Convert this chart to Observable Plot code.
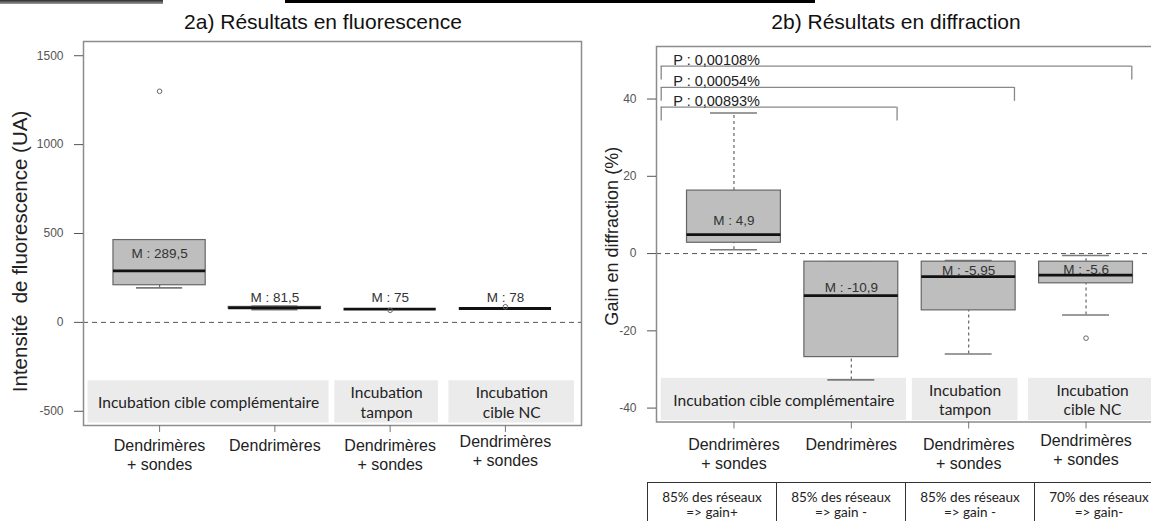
<!DOCTYPE html>
<html lang="fr">
<head>
<meta charset="utf-8">
<script src="https://cdn.jsdelivr.net/npm/d3@7"></script>
<script src="https://cdn.jsdelivr.net/npm/@observablehq/plot@0.6"></script>
<style>
  html, body { margin:0; padding:0; background:#fff; width:1151px; height:521px; overflow:hidden; }
  #root { position:relative; width:1151px; height:521px; overflow:hidden; font-family:"Liberation Sans", Arial, sans-serif; }
  .panel { position:absolute; top:0; }
  .title { position:absolute; top:10px; font-size:21px; line-height:24px; color:#111; white-space:nowrap; transform:translateX(-50%); }
  .bar1 { position:absolute; left:0; top:0; width:163px; height:4px; background:linear-gradient(#2a2a2a,#a0a0a0); }
  .bar2 { position:absolute; left:285px; top:0; width:530px; height:3px; background:#000; }
  .tbl { position:absolute; left:647px; top:482px; display:flex; }
  .cell { width:129px; height:60px; box-sizing:border-box; border-left:1.5px solid #333; border-top:1.5px solid #333; font-family:Lato, sans-serif; font-size:13.5px; line-height:15px; text-align:center; padding-top:7px; color:#222; white-space:pre; }
</style>
</head>
<body>
<div id="root"></div>
<script>
// ---------- shared ----------
const categories = ["Dendrimères\n+ sondes", "Dendrimères", "Dendrimères\n+ sondes", "Dendrimères\n+ sondes"];
const catIndex = [1, 2, 3, 4];
const stripLabels = ["Incubation cible complémentaire", "Incubation\ntampon", "Incubation\ncible NC"];
const stripFrom = [0.38, 2.52, 3.51];
const stripTo = [2.47, 3.42, 4.6];

// ---------- 2a) fluorescence ----------
const fluoTitle = "2a) Résultats en fluorescence";
const fluoYLabel = "Intensité  de fluorescence (UA)";
const fluoTicks = [-500, 0, 500, 1000, 1500];
const fluoLow = [194, 72, 75, 78];
const fluoQ1 = [209, 76, 75, 78];
const fluoMedian = [289.5, 81.5, 75, 78];
const fluoQ3 = [463, 87, 75, 78];
const fluoHigh = [463, 92, 75, 78];
const fluoMedianText = ["289,5", "81,5", "75", "78"];
const fluoLabelY = [384, 141, 141, 141];
const fluoOutCat = [1, 3, 4];
const fluoOutVal = [1300, 68, 88];
const fluoStrip = [-328, -566];

// ---------- 2b) diffraction ----------
const diffTitle = "2b) Résultats en diffraction";
const diffYLabel = "Gain en diffraction (%)";
const diffTicks = [-40, -20, 0, 20, 40];
const diffLow = [1.0, -32.7, -26.0, -15.9];
const diffQ1 = [2.8, -26.8, -14.7, -7.7];
const diffMedian = [4.9, -10.9, -5.95, -5.6];
const diffQ3 = [16.3, -2.1, -2.1, -2.1];
const diffHigh = [36.4, -2.1, -1.8, -0.5];
const diffMedianText = ["4,9", "-10,9", "-5,95", "-5,6"];
const diffLabelY = [8.4, -8.7, -4.4, -4.1];
const diffOutCat = [4];
const diffOutVal = [-21.9];
const diffStrip = [-32.3, -43.2];
const pFrom = [1, 1, 1];
const pTo = [4, 3, 2];
const pY = [48.5, 43.0, 37.9];
const pText = ["P : 0,00108%", "P : 0,00054%", "P : 0,00893%"];
const tableLine1 = ["85% des réseaux", "85% des réseaux", "85% des réseaux", "70% des réseaux"];
const tableLine2 = ["=> gain+", "=> gain -", "=> gain -", "=> gain-"];

const FONT = "'Liberation Sans', Arial, sans-serif";

function makePanel(cfg) {
  const stats = catIndex.map((c, i) => ({
    c, lo: cfg.low[i], q1: cfg.q1[i], med: cfg.med[i], q3: cfg.q3[i], hi: cfg.high[i],
    t: cfg.medText[i], ly: cfg.labelY[i]
  }));
  const outs = cfg.outCat.map((c, i) => ({c, v: cfg.outVal[i]}));
  const strips = stripLabels.map((s, i) => ({label: s, x1: stripFrom[i], x2: stripTo[i], y1: cfg.strip[0], y2: cfg.strip[1]}));
  const cats = catIndex.map((c, i) => ({c, label: categories[i]}));
  const whisk = {stroke: "#666", strokeDasharray: "3,3", strokeWidth: 1.2};
  const cap = {stroke: "#7a7a7a", strokeWidth: 1.6};
  const marks = [
    Plot.rect(strips, {x1: "x1", x2: "x2", y1: "y1", y2: "y2", fill: "#ebebeb"}),
    Plot.text(strips, {x: d => (d.x1 + d.x2) / 2, y: d => (d.y1 + d.y2) / 2, text: "label",
      fontFamily: "Lato, sans-serif", fontSize: 15.5, lineHeight: 1.25, fill: "#222"}),
    Plot.ruleY([0], {stroke: "#555", strokeDasharray: "5,4", strokeWidth: 1}),
    Plot.ruleX(stats, {x: "c", y1: "q3", y2: "hi", ...whisk}),
    Plot.ruleX(stats, {x: "c", y1: "lo", y2: "q1", ...whisk}),
    Plot.ruleY(stats, {y: "hi", x1: d => d.c - 0.2, x2: d => d.c + 0.2, ...cap}),
    Plot.ruleY(stats, {y: "lo", x1: d => d.c - 0.2, x2: d => d.c + 0.2, ...cap}),
    Plot.rect(stats, {x1: d => d.c - 0.4, x2: d => d.c + 0.4, y1: "q1", y2: "q3", fill: "#bebebe", stroke: "#666", strokeWidth: 1.2}),
    Plot.ruleY(stats, {y: "med", x1: d => d.c - 0.4, x2: d => d.c + 0.4, stroke: "#111", strokeWidth: 2.8}),
    Plot.dot(outs, {x: "c", y: "v", r: 2.3, stroke: "#666", fill: "none", strokeWidth: 1}),
    Plot.text(stats, {x: "c", y: "ly", text: d => "M : " + d.t, fontSize: 13.5, fill: "#333"}),
    Plot.frame({stroke: "#8c8c8c", strokeWidth: 1.5}),
    Plot.axisY({ticks: cfg.ticks, tickSize: 9, tickPadding: 11, fontSize: 12, color: "#555", tickFormat: d => String(d), label: null}),
    Plot.axisX({ticks: catIndex, tickSize: 7, tickFormat: () => "", color: "#777", label: null}),
    Plot.text(cats.filter(d => d.c < 4), {x: "c", frameAnchor: "bottom", text: "label", lineAnchor: "top",
      dy: cfg.catDy, fontSize: 16, lineHeight: 1.2, fill: "#222"}),
    Plot.text(cats.filter(d => d.c === 4), {x: "c", frameAnchor: "bottom", text: "label", lineAnchor: "top",
      dy: cfg.catDy - 4, fontSize: 16, lineHeight: 1.2, fill: "#222"}),
    Plot.text([cfg.yLabel], {frameAnchor: "left", textAnchor: "middle", rotate: -90, dx: cfg.yLabelDx, dy: cfg.yLabelDy,
      fontSize: cfg.yLabelSize, fill: "#222"})
  ];
  if (cfg.brackets) {
    const br = cfg.brackets;
    marks.push(
      Plot.ruleY(br, {y: "y", x1: d => d.from - 0.62, x2: d => d.to + 0.39, stroke: "#888", strokeWidth: 1.3}),
      Plot.ruleX(br, {x: d => d.from - 0.62, y1: "y", y2: d => d.y - 3.6, stroke: "#888", strokeWidth: 1.3}),
      Plot.ruleX(br, {x: d => d.to + 0.39, y1: "y", y2: d => d.y - 3.6, stroke: "#888", strokeWidth: 1.3}),
      Plot.text(br, {x: d => d.from - 0.62, y: "y", text: "text", textAnchor: "start", lineAnchor: "bottom",
        dx: 12, dy: -1, fontSize: 14.5, fill: "#222"})
    );
  }
  const svg = Plot.plot({
    width: cfg.width, height: 521,
    marginLeft: cfg.ml, marginRight: cfg.mr, marginTop: cfg.mt, marginBottom: cfg.mb,
    x: {domain: [0.34, 4.66]},
    y: {domain: cfg.yDomain},
    style: "background:transparent;max-width:none;overflow:visible;font-family:" + FONT + ";",
    marks
  });
  svg.classList.add("panel");
  svg.style.left = cfg.left + "px";
  return svg;
}

const root = document.getElementById("root");

root.appendChild(makePanel({
  left: 0, width: 590, ml: 83, mr: 9, mt: 41, mb: 96,
  yDomain: [-580, 1580], ticks: fluoTicks,
  low: fluoLow, q1: fluoQ1, med: fluoMedian, q3: fluoQ3, high: fluoHigh,
  medText: fluoMedianText, labelY: fluoLabelY, outCat: fluoOutCat, outVal: fluoOutVal,
  strip: fluoStrip, yLabel: fluoYLabel, yLabelDx: -63, yLabelDy: 18, yLabelSize: 20.5, catDy: 12
}));

root.appendChild(makePanel({
  left: 585, width: 588, ml: 71, mr: 10, mt: 46, mb: 99.5,
  yDomain: [-43.6, 53.6], ticks: diffTicks,
  low: diffLow, q1: diffQ1, med: diffMedian, q3: diffQ3, high: diffHigh,
  medText: diffMedianText, labelY: diffLabelY, outCat: diffOutCat, outVal: diffOutVal,
  strip: diffStrip, yLabel: diffYLabel, yLabelDx: -44, yLabelDy: 2, yLabelSize: 18, catDy: 14,
  brackets: pTo.map((t, i) => ({from: pFrom[i], to: t, y: pY[i], text: pText[i]}))
}));

// titles
[[fluoTitle, 323], [diffTitle, 896]].forEach(([t, cx]) => {
  const d = document.createElement("div");
  d.className = "title"; d.textContent = t; d.style.left = cx + "px";
  root.appendChild(d);
});

// decorative top bars from the source picture
["bar1", "bar2"].forEach(c => { const d = document.createElement("div"); d.className = c; root.appendChild(d); });

// bottom table of 2b
const tbl = document.createElement("div");
tbl.className = "tbl";
tableLine1.forEach((l1, i) => {
  const cell = document.createElement("div");
  cell.className = "cell";
  cell.textContent = l1 + "\n" + tableLine2[i];
  tbl.appendChild(cell);
});
root.appendChild(tbl);
</script>
</body>
</html>
